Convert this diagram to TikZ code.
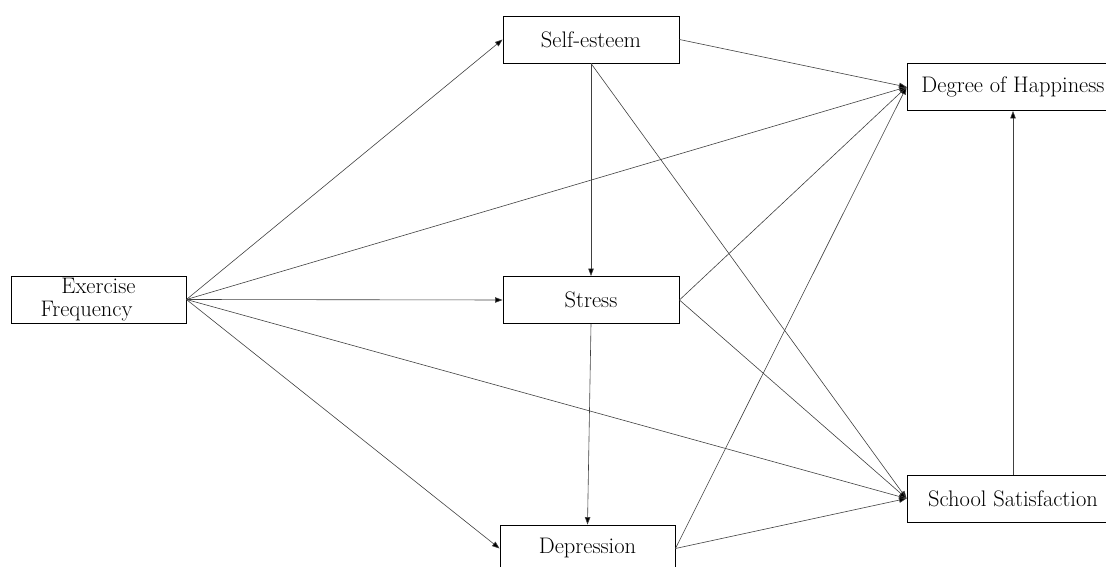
\documentclass[tikz,border=0pt]{standalone}
\usetikzlibrary{arrows.meta}
\begin{document}
\begin{tikzpicture}[x=1pt,y=1pt,
  box/.style={draw=black,line width=0.9pt,fill=white,inner sep=0pt,minimum height=47pt,
    font=\fontsize{22.5}{22.5}\selectfont},
  link/.style={draw=black!75,line width=0.6pt,-{Triangle[length=7.5pt,width=5.5pt,fill=black]}}]
\useasboundingbox (0,0) rectangle (1106,567);
\clip (0,0) rectangle (1106,567);
\node[box,minimum width=175pt,align=center] (ef) at (98.5,267.5) {Exercise\\Frequency\rule{24pt}{0pt}};
\node[box,minimum width=176pt] (se) at (591,527.5) {Self-esteem};
\node[box,minimum width=176pt] (st) at (591,267) {Stress};
\node[box,minimum width=175pt] (dep) at (587.5,18.5) {Depression};
\node[box,minimum width=212pt] (dh) at (1013,480) {Degree of Happiness};
\node[box,minimum width=212pt] (ss) at (1013,68.5) {School Satisfaction};
\draw[link] (ef.east) -- (se.west);
\draw[link] (ef.east) -- (dh.west);
\draw[link] (ef.east) -- (st.west);
\draw[link] (ef.east) -- (ss.west);
\draw[link] (ef.east) -- (dep.west);
\draw[link] (se.east) -- (dh.west);
\draw[link] (se.south) -- (st.north);
\draw[link] (se.south) -- (ss.west);
\draw[link] (st.east) -- (dh.west);
\draw[link] (st.east) -- (ss.west);
\draw[link] (st.south) -- (dep.north);
\draw[link] (dep.east) -- (dh.west);
\draw[link] (dep.east) -- (ss.west);
\draw[link] (ss.north) -- (dh.south);
\end{tikzpicture}
\end{document}
